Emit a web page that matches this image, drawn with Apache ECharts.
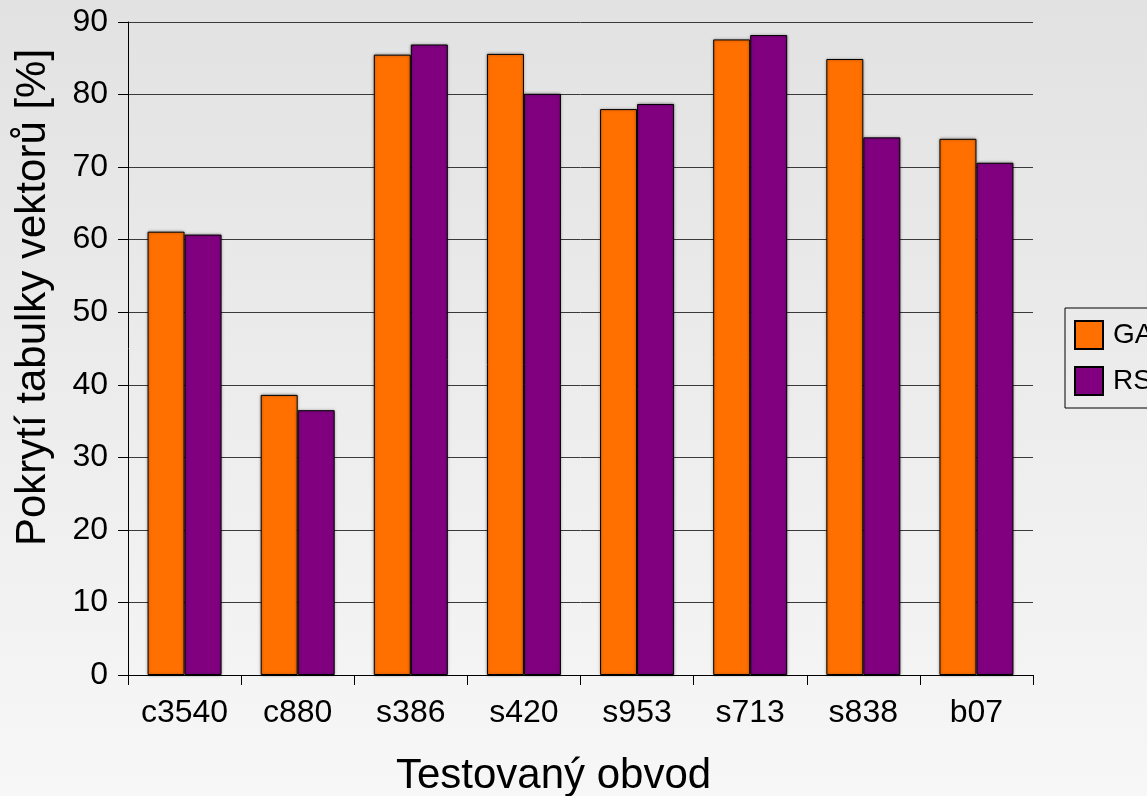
<!DOCTYPE html>
<html>
<head>
<meta charset="utf-8">
<script src="https://cdn.jsdelivr.net/npm/echarts@6/dist/echarts.min.js"></script>
<style>
  html, body { margin: 0; padding: 0; }
  #chart { width: 1147px; height: 796px; }
</style>
</head>
<body>
<div id="chart"></div>
<script>
// Tested circuits and vector-table coverage per method
const circuits = ['c3540', 'c880', 's386', 's420', 's953', 's713', 's838', 'b07'];
const seriesNames = ['GA', 'RS'];
const gaValues = [61.1, 38.6, 85.5, 85.6, 78.0, 87.6, 84.9, 73.9];
const rsValues = [60.7, 36.5, 86.9, 80.1, 78.7, 88.2, 74.1, 70.6];
const yTicks = { min: 0, max: 90, step: 10 };
const axisTitles = { x: 'Testovaný obvod', y: 'Pokrytí tabulky vektorů [%]' };

const FONT = '"Liberation Sans", Arial, sans-serif';
const chart = echarts.init(document.getElementById('chart'), null, { renderer: 'canvas' });

const barStyle = (color) => ({
  color: color,
  borderColor: '#000',
  borderWidth: 1,
  shadowColor: 'rgba(0,0,0,0.4)',
  shadowBlur: 3
});

chart.setOption({
  animation: false,
  backgroundColor: {
    type: 'linear', x: 0, y: 0, x2: 0, y2: 1,
    colorStops: [
      { offset: 0, color: '#e2e2e2' },
      { offset: 1, color: '#f7f7f7' }
    ]
  },
  textStyle: { fontFamily: FONT, color: '#000' },
  grid: {
    left: 128, right: 114, top: 22, bottom: 121,
    containLabel: false,
    outerBoundsMode: 'none'
  },
  legend: {
    orient: 'vertical',
    left: 1065,
    top: 308,
    padding: [12, 40, 12, 9],
    itemWidth: 28,
    itemHeight: 28,
    itemGap: 16,
    borderColor: '#000',
    borderWidth: 1,
    icon: 'rect',
    data: seriesNames,
    textStyle: { fontFamily: FONT, fontSize: 28, color: '#000', padding: [0, 0, 0, 5] }
  },
  xAxis: {
    type: 'category',
    data: circuits,
    name: axisTitles.x,
    nameLocation: 'middle',
    nameGap: 80,
    nameTextStyle: { fontFamily: FONT, fontSize: 42, color: '#000', padding: [0, 54, 0, 0] },
    axisLine: { show: true, lineStyle: { color: '#000', width: 1 } },
    axisTick: { show: true, interval: 0, length: 10, lineStyle: { color: '#000' } },
    axisLabel: { fontFamily: FONT, fontSize: 32, color: '#000', margin: 22, interval: 0 },
    splitLine: { show: false }
  },
  yAxis: {
    type: 'value',
    min: yTicks.min,
    max: yTicks.max,
    interval: yTicks.step,
    name: axisTitles.y,
    nameLocation: 'middle',
    nameGap: 74,
    nameTextStyle: { fontFamily: FONT, fontSize: 42, color: '#000', padding: [0, 0, 0, 102] },
    axisLine: { show: true, lineStyle: { color: '#000', width: 1 } },
    axisTick: { show: true, length: 10, lineStyle: { color: '#000' } },
    axisLabel: { fontFamily: FONT, fontSize: 32, color: '#000', margin: 20 },
    splitLine: { show: true, lineStyle: { color: '#3a3a3a', width: 1 } }
  },
  series: [
    {
      name: seriesNames[0],
      type: 'bar',
      data: gaValues,
      barWidth: 37,
      barGap: '0%',
      itemStyle: barStyle('#ff7000')
    },
    {
      name: seriesNames[1],
      type: 'bar',
      data: rsValues,
      barWidth: 37,
      barGap: '0%',
      itemStyle: barStyle('#800080')
    }
  ]
});
</script>
</body>
</html>
